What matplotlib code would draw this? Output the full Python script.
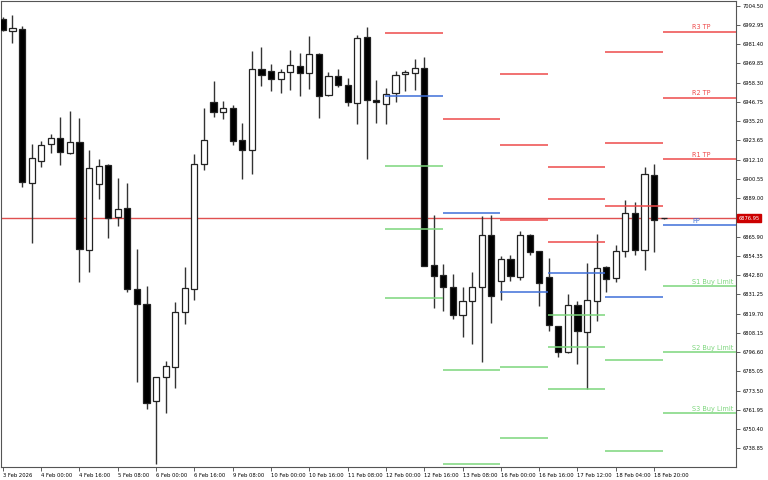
import matplotlib as mpl
mpl.use('Agg')
import matplotlib.pyplot as plt

# 4h candles, 3 Feb 2026 .. 19 Feb 2026
opens = [6996.5, 6989.5, 6990.5, 6897.9, 6911.4, 6921.7, 6925.3, 6916.3, 6922.5, 6857.9,
         6897.3, 6908.9, 6877.5, 6882.9, 6834.6, 6825.2, 6767.2, 6781.4, 6787.8, 6820.8,
         6834.6, 6909.3, 6946.5, 6940.9, 6942.9, 6923.7, 6917.7, 6966.3, 6965.3, 6960.7,
         6964.5, 6968.5, 6963.9, 6975.3, 6950.7, 6962.1, 6956.7, 6946.1, 6985.7, 6947.9,
         6945.3, 6951.9, 6963.5, 6964.3, 6966.9, 6848.9, 6842.9, 6835.5, 6818.7, 6827.2,
         6835.6, 6867.0, 6839.4, 6852.3, 6841.8, 6866.9, 6857.3, 6841.5, 6812.1, 6796.6,
         6824.8, 6808.8, 6827.4, 6847.8, 6840.9, 6857.3, 6879.9, 6857.7, 6902.9, 6876.9]
highs = [6997.5, 6998.9, 6992.5, 6921.3, 6923.3, 6927.7, 6937.5, 6941.3, 6936.9, 6917.9,
         6912.3, 6909.6, 6900.9, 6897.9, 6858.5, 6836.2, 6781.8, 6791.2, 6826.5, 6847.8,
         6915.5, 6943.3, 6959.3, 6947.3, 6944.9, 6933.9, 6977.3, 6979.9, 6969.5, 6966.3,
         6977.9, 6976.3, 6986.3, 6975.8, 6964.7, 6966.5, 6960.9, 6987.1, 6991.9, 6959.9,
         6954.9, 6965.5, 6966.1, 6972.3, 6973.5, 6878.9, 6849.5, 6843.5, 6835.5, 6844.5,
         6878.3, 6878.9, 6854.3, 6854.9, 6869.3, 6867.3, 6857.5, 6853.2, 6812.4, 6831.4,
         6827.4, 6849.9, 6867.3, 6848.2, 6860.9, 6887.9, 6886.7, 6907.9, 6909.5, 6877.2]
lows = [6989.0, 6982.3, 6895.5, 6861.9, 6907.9, 6915.9, 6908.9, 6915.3, 6838.8, 6844.5,
        6888.5, 6865.2, 6872.3, 6832.8, 6778.8, 6762.2, 6729.4, 6759.8, 6774.8, 6813.3,
        6827.8, 6905.9, 6937.9, 6936.5, 6920.9, 6900.3, 6903.7, 6956.5, 6953.5, 6952.3,
        6953.9, 6950.5, 6954.7, 6937.1, 6950.5, 6955.5, 6944.5, 6933.5, 6912.3, 6934.3,
        6933.3, 6946.9, 6953.3, 6954.1, 6848.0, 6822.9, 6821.4, 6816.3, 6805.5, 6801.3,
        6790.5, 6813.9, 6827.8, 6839.4, 6839.9, 6854.9, 6824.4, 6809.2, 6793.5, 6796.3,
        6789.3, 6774.6, 6815.4, 6832.6, 6838.8, 6853.8, 6854.7, 6845.9, 6856.8, 6876.7]
closes = [6989.9, 6990.9, 6898.5, 6912.9, 6920.9, 6925.1, 6916.9, 6922.7, 6858.3, 6906.9,
          6908.3, 6877.2, 6882.6, 6834.3, 6825.4, 6765.8, 6781.4, 6788.2, 6820.8, 6834.9,
          6909.3, 6923.7, 6940.7, 6942.9, 6923.1, 6917.7, 6966.5, 6962.7, 6960.7, 6964.7,
          6968.9, 6963.9, 6975.5, 6950.1, 6962.1, 6956.9, 6946.5, 6985.1, 6947.7, 6946.5,
          6951.5, 6962.7, 6964.5, 6967.1, 6848.4, 6842.3, 6835.5, 6818.8, 6827.4, 6835.8,
          6867.0, 6830.1, 6852.5, 6842.1, 6866.7, 6856.8, 6838.2, 6812.7, 6796.8, 6824.7,
          6809.4, 6827.7, 6846.9, 6840.6, 6857.4, 6879.9, 6857.7, 6903.3, 6875.9, 6876.95]

xTickIdx = [0, 4, 8, 12, 16, 20, 24, 28, 32, 36, 40, 44, 48, 52, 56, 60, 64, 68]
xTickLabels = ['3 Feb 2026', '4 Feb 00:00', '4 Feb 16:00', '5 Feb 08:00', '6 Feb 00:00',
               '6 Feb 16:00', '9 Feb 08:00', '10 Feb 00:00', '10 Feb 16:00', '11 Feb 08:00',
               '12 Feb 00:00', '12 Feb 16:00', '13 Feb 08:00', '16 Feb 00:00', '16 Feb 16:00',
               '17 Feb 12:00', '18 Feb 04:00', '18 Feb 20:00']

yTicks = [6738.85, 6750.40, 6761.95, 6773.50, 6785.05, 6796.60, 6808.15, 6819.70, 6831.25,
          6842.80, 6854.35, 6865.90, 6889.00, 6900.55, 6912.10, 6923.65, 6935.20,
          6946.75, 6958.30, 6969.85, 6981.40, 6992.95, 7004.50]

bidPrice = 6876.95

# daily pivot levels (day start / end in bar index)
dayStart = [40, 46, 52, 57, 63, 69]
dayEnd = [46, 52, 57, 63, 69, 78]
levelR3 = [None, None, 6963.5, 6907.5, 6976.5, 6988.7]
levelR2 = [None, None, 6921.1, 6888.3, 6921.9, 6949.1]
levelR1 = [6987.9, 6936.5, 6875.9, 6862.8, 6884.3, 6912.3]
levelPP = [6950.1, 6879.9, 6832.8, 6843.9, 6829.5, 6872.7]
levelS1 = [6908.5, 6786.0, 6787.5, 6818.7, 6791.8, 6836.1]
levelS2 = [6870.6, 6729.4, 6744.8, 6799.6, 6737.2, 6796.5]
levelS3 = [6829.2, None, None, 6774.6, None, 6759.9]
lastLabels = ['R3 TP', 'R2 TP', 'R1 TP', 'PP', 'S1 Buy Limit', 'S2 Buy Limit', 'S3 Buy Limit']

red = '#ee4a4a'
blue = '#3f6fd8'
green = '#7cd67c'

fig = plt.figure(figsize=(7.68, 4.8), dpi=100)
ax = fig.add_axes([0.0015, 0.027, 0.9568, 0.970])

# bid line
ax.axhline(bidPrice, color='#e05050', lw=1, zorder=1)

# candles
n = len(opens)
for i in range(n):
    o, h, l, c = opens[i], highs[i], lows[i], closes[i]
    ax.vlines(i, l, h, color='#333333', lw=1, zorder=2)
    bottom = min(o, c)
    height = max(abs(c - o), 0.15)
    face = 'white' if c >= o else 'black'
    ax.bar(i, height, bottom=bottom, width=0.64, color=face, edgecolor='#222222',
           linewidth=0.9, zorder=3)

# pivot levels
levels = [levelR3, levelR2, levelR1, levelPP, levelS1, levelS2, levelS3]
colors = [red, red, red, blue, green, green, green]
for lv, col in zip(levels, colors):
    for d in range(len(dayStart)):
        if lv[d] is not None:
            ax.hlines(lv[d], dayStart[d] - 0.08, dayEnd[d] - 0.08, color=col, lw=1.1, zorder=4)

for lab, lv, col in zip(lastLabels, levels, colors):
    ax.text(72.0, lv[-1] + 1.0, lab, color=col, fontsize=4.7, ha='left', va='bottom', zorder=5)

ax.set_xlim(-0.18, 76.55)
ax.set_ylim(6727.6, 7007.0)

# axes styling
for s in ax.spines.values():
    s.set_color('#555555')
    s.set_linewidth(0.8)

ax.yaxis.tick_right()
ax.set_yticks(yTicks)
ax.set_yticklabels(['%.2f' % v for v in yTicks])
ax.tick_params(axis='y', direction='out', length=3, width=0.6, colors='#444444',
               labelsize=3.7, labelcolor='black', pad=1.5)

ax.set_xticks(xTickIdx)
ax.set_xticklabels(xTickLabels, ha='left')
ax.tick_params(axis='x', direction='out', length=3, width=0.6, colors='#444444',
               labelsize=3.8, labelcolor='black', pad=1.5)

# current price tag on the price scale
ax.text(1.003, bidPrice, '%.2f' % bidPrice, transform=ax.get_yaxis_transform(),
        fontsize=3.7, color='white', ha='left', va='center', zorder=6,
        bbox=dict(boxstyle='square,pad=0.25', facecolor='#cc0000', edgecolor='#cc0000'),
        clip_on=False)

fig.savefig('out.png', dpi=100, facecolor='white')
